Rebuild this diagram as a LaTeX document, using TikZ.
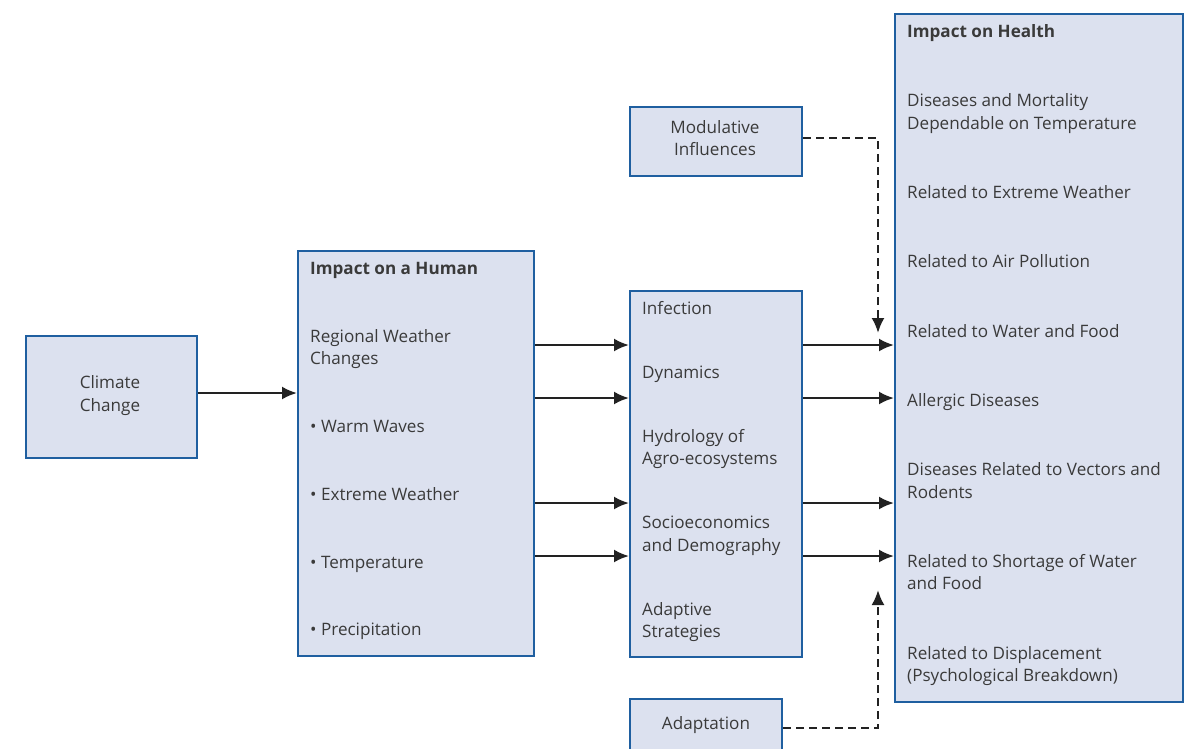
\documentclass[tikz,border=0pt]{standalone}
\usepackage{fontspec}
\setmainfont{Open Sans}
\usetikzlibrary{arrows.meta}
\definecolor{boxfill}{HTML}{DCE1EF}
\definecolor{boxline}{HTML}{1F5FA0}
\definecolor{txt}{HTML}{3A3A3A}
\definecolor{arr}{HTML}{222222}
\begin{document}
\begin{tikzpicture}[x=1pt,y=-1pt,
  panel/.style={draw=boxline,fill=boxfill,line width=2pt,inner sep=0pt,anchor=north west},
  lbl/.style={anchor=mid west,inner sep=0pt,text=txt,font=\fontsize{17.1}{20}\selectfont},
  clbl/.style={anchor=mid,inner sep=0pt,text=txt,font=\fontsize{17.1}{20}\selectfont},
  hd/.style={lbl,font=\fontsize{17.1}{20}\selectfont\bfseries},
  flow/.style={draw=arr,line width=2.3pt,-{Latex[length=15pt,width=13pt]}},
  dflow/.style={draw=arr,line width=2.3pt,dash pattern=on 8pt off 5pt,-{Latex[length=15pt,width=13pt]}}]
\useasboundingbox (0,0) rectangle (1195,748);
% boxes
\node[panel,minimum width=171pt,minimum height=122pt] (cc) at (25,335) {};
\node[panel,minimum width=236pt,minimum height=405pt] (hum) at (297,250) {};
\node[panel,minimum width=172pt,minimum height=366pt] (mid) at (629,290) {};
\node[panel,minimum width=172pt,minimum height=69pt] (mod) at (629,106) {};
\node[panel,minimum width=152pt,minimum height=60pt] (ada) at (629,698) {};
\node[panel,minimum width=288pt,minimum height=688pt] (hea) at (894,13) {};
% climate change
\node[clbl] (cc1) at (110,386) {Climate};
\node[clbl] (cc2) at (110,409) {Change};
% modulative / adaptation
\node[clbl] (mod1) at (715,131) {Modulative};
\node[clbl] (mod2) at (715,153) {Influences};
\node[clbl] (ada1) at (706,727) {Adaptation};
% human
\node[hd] (h0) at (310,272) {Impact on a Human};
\node[lbl] (h1) at (310,340) {Regional Weather};
\node[lbl] (h1b) at (310,362) {Changes};
\node[lbl] (h2) at (310,430) {• Warm Waves};
\node[lbl] (h3) at (310,498) {• Extreme Weather};
\node[lbl] (h4) at (310,566) {• Temperature};
\node[lbl] (h5) at (310,633) {• Precipitation};
% middle
\node[lbl] (m1) at (642,312) {Infection};
\node[lbl] (m2) at (642,376) {Dynamics};
\node[lbl] (m3) at (642,440) {Hydrology of};
\node[lbl] (m3b) at (642,462) {Agro-ecosystems};
\node[lbl] (m4) at (642,526) {Socioeconomics};
\node[lbl] (m4b) at (642,549) {and Demography};
\node[lbl] (m5) at (642,613) {Adaptive};
\node[lbl] (m5b) at (642,635) {Strategies};
% health
\node[hd] (e0) at (907,35) {Impact on Health};
\node[lbl] (e1) at (907,104) {Diseases and Mortality};
\node[lbl] (e1b) at (907,127) {Dependable on Temperature};
\node[lbl] (e2) at (907,196) {Related to Extreme Weather};
\node[lbl] (e3) at (907,265) {Related to Air Pollution};
\node[lbl] (e4) at (907,335) {Related to Water and Food};
\node[lbl] (e5) at (907,404) {Allergic Diseases};
\node[lbl] (e6) at (907,473) {Diseases Related to Vectors and};
\node[lbl] (e6b) at (907,496) {Rodents};
\node[lbl] (e7) at (907,565) {Related to Shortage of Water};
\node[lbl] (e7b) at (907,587) {and Food};
\node[lbl] (e8) at (907,657) {Related to Displacement};
\node[lbl] (e8b) at (907,679) {(Psychological Breakdown)};
% connectors
\draw[flow] (cc.east |- 0,393) -- (hum.west |- 0,393);
\foreach \yy in {345,398,503,556}{
  \draw[flow] (hum.east |- 0,\yy) -- (mid.west |- 0,\yy);
  \draw[flow] (mid.east |- 0,\yy) -- (hea.west |- 0,\yy);
}
\coordinate (dm) at (878,138);
\coordinate (dmt) at (878,333);
\coordinate (da) at (878,728);
\coordinate (dat) at (878,590);
\draw[dflow] (mod.east |- dm) -- (dm) -- (dmt);
\draw[dflow] (ada.east |- da) -- (da) -- (dat);
\end{tikzpicture}
\end{document}
